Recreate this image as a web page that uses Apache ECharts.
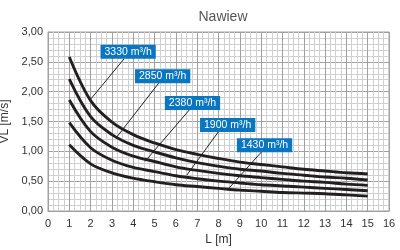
<!DOCTYPE html>
<html><head><meta charset="utf-8">
<script src="https://cdn.jsdelivr.net/npm/echarts@6/dist/echarts.min.js"></script>
<style>html,body{margin:0;padding:0;background:#fff}#c{width:400px;height:250px}</style>
</head><body><div id="c"></div>
<script>
const lengths = [1,2,3,4,5,6,7,8,9,10,11,12,13,14,15];
const seriesNames = ['3330 m³/h','2850 m³/h','2380 m³/h','1900 m³/h','1430 m³/h'];
const v3330 = [2.58,1.85,1.49,1.28,1.14,1.03,0.95,0.88,0.82,0.78,0.74,0.70,0.67,0.64,0.62];
const v2850 = [2.21,1.58,1.28,1.10,0.99,0.89,0.81,0.75,0.70,0.67,0.63,0.60,0.57,0.55,0.52];
const v2380 = [1.86,1.33,1.07,0.92,0.83,0.74,0.68,0.63,0.59,0.56,0.53,0.50,0.48,0.45,0.43];
const v1900 = [1.48,1.06,0.85,0.73,0.66,0.59,0.54,0.50,0.47,0.44,0.42,0.40,0.38,0.36,0.34];
const v1430 = [1.11,0.79,0.64,0.55,0.49,0.44,0.41,0.38,0.35,0.33,0.31,0.30,0.29,0.27,0.25];
const values = [v3330, v2850, v2380, v1900, v1430];
// label anchors (data coords) and leader lines (data coords)
const labelAt = [[3.76,2.67],[5.38,2.26],[6.78,1.81],[8.43,1.44],[10.16,1.10]];
const leaderFrom = [[3.57,2.55],[5.21,2.15],[6.67,1.71],[8.0,1.33],[10.03,0.995]];
const leaderTo = [[1.97,1.86],[3.23,1.24],[4.55,0.83],[6.51,0.60],[8.46,0.37]];
const xTicks = [0,16,1];
const yTicks = [0,3,0.5];

const FONT = 'Liberation Sans, Arial, Helvetica, sans-serif';
const chart = echarts.init(document.getElementById('c'));
const series = seriesNames.map((name, i) => ({
  name, type: 'line', smooth: 0.35, symbol: 'none',
  data: lengths.map((L, j) => [L, values[i][j]]),
  lineStyle: {color: '#231f20', width: 2.9},
  z: 3,
  markLine: {
    silent: true, symbol: 'none', animation: false,
    lineStyle: {color: '#231f20', width: 1, type: 'solid'},
    label: {show: false},
    data: [[{coord: leaderFrom[i]}, {coord: leaderTo[i]}]]
  },
  markPoint: {
    silent: true, animation: false, symbol: 'rect', symbolSize: 0,
    data: [{coord: labelAt[i]}],
    label: {
      show: true, position: 'inside', formatter: name,
      color: '#fff', fontSize: 10.5, fontFamily: FONT,
      backgroundColor: '#0a76c0', padding: [2, 4, 1, 4], lineHeight: 11
    }
  }
}));
chart.setOption({
  animation: false,
  title: {text: 'Nawiew', left: 218, textAlign: 'center', top: 5,
    textStyle: {fontSize: 14, fontWeight: 'normal', color: '#555', fontFamily: FONT}},
  grid: {left: 48, right: 11, top: 32, bottom: 39, containLabel: false, outerBoundsMode: 'none',
    show: true, borderColor: '#a0a0a0', borderWidth: 1, backgroundColor: '#fff'},
  xAxis: {
    type: 'value', min: xTicks[0], max: xTicks[1], interval: xTicks[2],
    name: 'L [m]', nameLocation: 'middle', nameGap: 21,
    nameTextStyle: {fontSize: 12, color: '#333', fontFamily: FONT},
    axisLine: {show: true, lineStyle: {color: '#a0a0a0'}},
    axisTick: {show: false},
    axisLabel: {fontSize: 11, color: '#333', fontFamily: FONT, margin: 7},
    splitLine: {show: true, lineStyle: {color: '#a0a0a0', width: 1}},
    minorTick: {show: false, splitNumber: 4},
    minorSplitLine: {show: true, lineStyle: {color: '#d0d0d0', width: 1}}
  },
  yAxis: {
    type: 'value', min: yTicks[0], max: yTicks[1], interval: yTicks[2],
    name: 'VL [m/s]', nameLocation: 'middle', nameGap: 33,
    nameTextStyle: {fontSize: 12, color: '#333', fontFamily: FONT},
    axisLine: {show: true, lineStyle: {color: '#a0a0a0'}},
    axisTick: {show: false},
    axisLabel: {fontSize: 11, color: '#333', fontFamily: FONT, margin: 5,
      formatter: v => v.toFixed(2).replace('.', ',')},
    splitLine: {show: true, lineStyle: {color: '#a0a0a0', width: 1}},
    minorTick: {show: false, splitNumber: 5},
    minorSplitLine: {show: true, lineStyle: {color: '#d0d0d0', width: 1}}
  },
  series
});
</script></body></html>
